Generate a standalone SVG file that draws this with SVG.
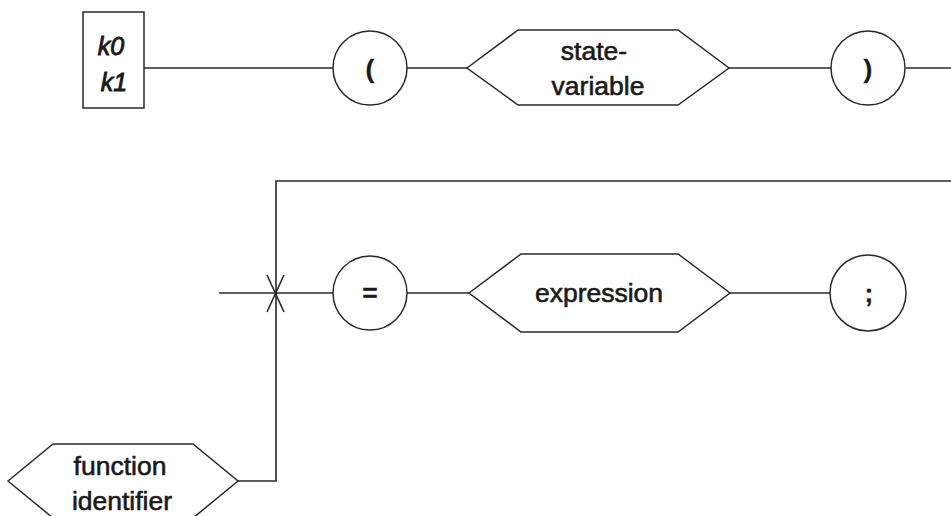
<svg xmlns="http://www.w3.org/2000/svg" width="951" height="516" viewBox="0 0 951 516">
  <style>
    .shape { fill: #ffffff; stroke: #2a2a2a; stroke-width: 1.5; }
    .wire { fill: none; stroke: #2a2a2a; stroke-width: 1.6; }
    .lbl { font-family: "Liberation Sans", Arial, sans-serif; font-size: 26.5px; fill: #1a1a1a; stroke: #1a1a1a; stroke-width: 0.6; text-anchor: middle; }
    .ital { font-style: italic; font-size: 25px; stroke-width: 0.9; }
    .punct { font-weight: bold; stroke-width: 0.3; }
  </style>
  <rect width="951" height="516" fill="#ffffff"/>

  <!-- connectors -->
  <g id="connectors">
    <line class="wire" x1="144" y1="68" x2="333" y2="68"/>
    <line class="wire" x1="407" y1="68" x2="467" y2="68"/>
    <line class="wire" x1="729" y1="68" x2="831" y2="68"/>
    <line class="wire" x1="906" y1="68" x2="951" y2="68"/>
    <polyline class="wire" points="951,181 276,181 276,481 238,481"/>
    <line class="wire" x1="219" y1="293" x2="333" y2="293"/>
    <line class="wire" x1="407" y1="293" x2="469" y2="293"/>
    <line class="wire" x1="730" y1="293" x2="831" y2="293"/>
    <!-- junction mark -->
    <line class="wire" x1="267" y1="275" x2="284" y2="312"/>
    <line class="wire" x1="284" y1="275" x2="267" y2="312"/>
  </g>

  <g id="node-k">
    <rect class="shape" x="83" y="12" width="61" height="96"/>
    <text class="lbl ital" x="111" y="55">k0</text>
    <text class="lbl ital" x="114" y="91">k1</text>
  </g>

  <g id="node-lparen">
    <circle class="shape" cx="370" cy="68" r="37"/>
    <text class="lbl punct" x="370" y="78">(</text>
  </g>

  <g id="node-state-variable">
    <polygon class="shape" points="467,68 518,30 678,30 729,68 678,105 518,105"/>
    <text class="lbl" x="594" y="60">state-</text>
    <text class="lbl" x="598" y="95">variable</text>
  </g>

  <g id="node-rparen">
    <circle class="shape" cx="868" cy="68" r="37"/>
    <text class="lbl punct" x="868" y="78">)</text>
  </g>

  <g id="node-equals">
    <circle class="shape" cx="370" cy="293" r="37"/>
    <text class="lbl punct" x="370" y="302">=</text>
  </g>

  <g id="node-expression">
    <polygon class="shape" points="469,293 521,254 678,254 730,293 678,332 521,332"/>
    <text class="lbl" x="599" y="302">expression</text>
  </g>

  <g id="node-semicolon">
    <circle class="shape" cx="868" cy="293" r="38"/>
    <text class="lbl punct" x="869" y="302">;</text>
  </g>

  <g id="node-function-identifier">
    <polygon class="shape" points="8,481 53,444 193,444 238,481 193,518 53,518"/>
    <text class="lbl" x="120" y="475">function</text>
    <text class="lbl" x="122" y="510">identifier</text>
  </g>
</svg>
